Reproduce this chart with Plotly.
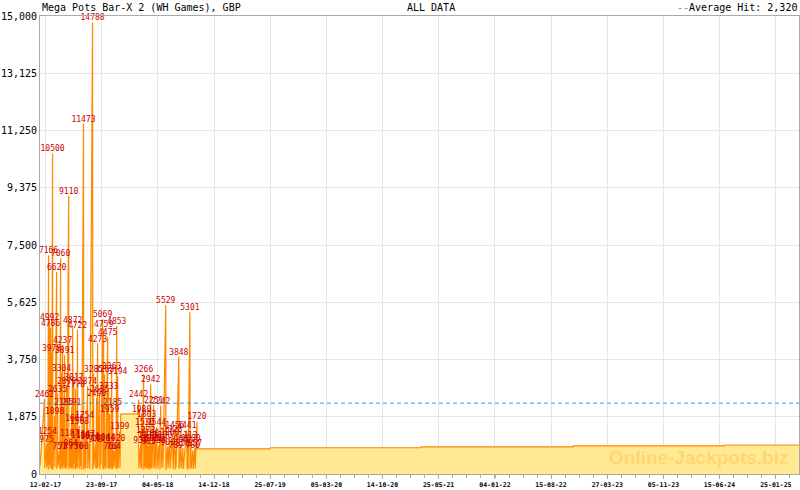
import plotly.graph_objects as go
import pandas as pd

# ---------------- data ----------------
hit_dates = [
    "2017-02-08", "2017-02-16", "2017-02-20", "2017-02-24", "2017-02-28", "2017-03-04",
    "2017-03-08", "2017-03-12", "2017-03-20", "2017-03-28", "2017-04-01", "2017-04-09",
    "2017-04-13", "2017-04-17", "2017-04-21", "2017-04-25", "2017-04-29", "2017-05-03",
    "2017-05-07", "2017-05-15", "2017-05-19", "2017-05-23", "2017-05-27", "2017-05-31",
    "2017-06-04", "2017-06-08", "2017-06-11", "2017-06-15", "2017-06-19", "2017-06-27",
    "2017-07-01", "2017-07-05", "2017-07-13", "2017-07-17", "2017-07-21", "2017-07-29",
    "2017-08-06", "2017-08-18", "2017-08-22", "2017-08-30", "2017-09-03", "2017-09-07",
    "2017-09-15", "2017-09-19", "2017-09-27", "2017-10-01", "2017-10-05", "2017-10-09",
    "2017-10-17", "2017-10-21", "2017-10-25", "2017-10-29", "2017-11-02", "2017-11-06",
    "2017-11-10", "2017-11-18", "2017-11-22", "2017-11-26", "2017-12-04",
    "2018-02-17", "2018-02-25", "2018-03-01", "2018-03-09", "2018-03-13", "2018-03-17",
    "2018-03-21", "2018-03-25", "2018-03-29", "2018-04-02", "2018-04-06", "2018-04-10",
    "2018-04-18", "2018-04-22", "2018-04-30", "2018-05-08", "2018-05-16", "2018-05-24",
    "2018-06-05", "2018-06-13", "2018-06-21", "2018-07-03", "2018-07-11", "2018-07-15",
    "2018-07-27", "2018-08-04", "2018-08-12", "2018-08-28", "2018-09-01", "2018-09-09",
    "2018-09-13", "2018-09-21", "2018-09-29", "2018-10-07",
]
hit_values = [
    2462, 975, 1254, 7166, 4992, 4786,
    3978, 10500, 1898, 6620, 2635, 751,
    7060, 3304, 4237, 2185, 3891, 747,
    2876, 9110, 1187, 864, 2191, 4872,
    3017, 1666, 2778, 750, 4722, 1568,
    1100, 760, 11473, 1754, 1147, 2874,
    1074, 14788, 3285, 973, 2490, 4273,
    2625, 1016, 5069, 4759, 3263, 1044,
    4475, 2733, 1959, 766, 3363, 2185,
    764, 1020, 4853, 3194, 1399,
    2442, 936, 1980, 3266, 1530, 1272,
    1803, 1113, 913, 1180, 2942, 1000,
    2251, 1030, 1544, 938, 2242, 1100,
    5529, 900, 1200, 1323, 1456, 789,
    3848, 990, 850, 1441, 1113, 5301,
    1000, 780, 857, 1720,
]
# value the jackpot fell back to right after each hit
trough_values = [
    210, 180, 260, 150, 300, 190, 170, 140, 230, 160, 250, 180,
    150, 210, 170, 280, 190, 160, 220, 150, 240, 170, 200, 160,
    310, 180, 150, 230, 190, 170, 260, 150, 140, 220, 180, 200,
    160, 150, 250, 190, 170, 210, 160, 300, 180, 150, 230, 170,
    200, 160, 190, 220, 150, 180, 240, 170, 160, 200, 200,
    180, 220, 160, 150, 240, 190, 170, 210, 160, 150, 200, 180,
    230, 160, 190, 150, 170, 210, 140, 200, 180, 160, 150, 220,
    170, 190, 160, 180, 150, 200, 170, 160, 190, 820,
]
# extra jackpot readings (start, data gap plateau, slow growth since last hit)
extra_dates = ["2017-01-21", "2017-12-08", "2018-02-13",
               "2019-07-25", "2019-07-26", "2021-03-16", "2021-03-17",
               "2022-11-11", "2022-11-12", "2024-07-05", "2024-07-06", "2025-04-27"]
extra_values = [260, 1960, 1975,
                820, 860, 860, 890,
                890, 920, 920, 950, 950]

average_hit = 2320
y_ticks = [0, 1875, 3750, 5625, 7500, 9375, 11250, 13125, 15000]
tick_dates = ["2017-02-12", "2017-09-23", "2018-05-04", "2018-12-14", "2019-07-25",
              "2020-03-05", "2020-10-14", "2021-05-25", "2022-01-04", "2022-08-15",
              "2023-03-27", "2023-11-05", "2024-06-15", "2025-01-25"]
tick_labels = ["12-02-17", "23-09-17", "04-05-18", "14-12-18", "25-07-19",
               "05-03-20", "14-10-20", "25-05-21", "04-01-22", "15-08-22",
               "27-03-23", "05-11-23", "15-06-24", "25-01-25"]

# ---------------- build jackpot line ----------------
hd = pd.to_datetime(hit_dates)
pts = []
for d, v, t in zip(hd, hit_values, trough_values):
    pts.append((d, v))
    pts.append((d + pd.Timedelta(days=1), t))
for d, v in zip(pd.to_datetime(extra_dates), extra_values):
    pts.append((d, v))
line = pd.DataFrame(pts, columns=["date", "value"]).sort_values("date")

MONO = "DejaVu Sans Mono"
fig = go.Figure()
fig.add_trace(go.Scatter(
    x=line["date"], y=line["value"], mode="lines",
    line=dict(color="#FF8800", width=1.2),
    fill="tozeroy", fillcolor="#FFE993", hoverinfo="skip", showlegend=False))
fig.add_trace(go.Scatter(
    x=hd, y=hit_values, mode="text", text=[str(v) for v in hit_values],
    textposition="top center", cliponaxis=False,
    textfont=dict(family=MONO, size=8, color="#CC0000"),
    hoverinfo="skip", showlegend=False))

fig.add_shape(type="line", xref="paper", x0=0, x1=1, yref="y",
              y0=average_hit, y1=average_hit,
              line=dict(color="#3D9BD6", width=1, dash="4px,3px"))

fig.add_annotation(xref="paper", yref="paper", x=0.868, y=0.037,
                   text="<b>Online-Jackpots.biz</b>", showarrow=False,
                   xanchor="center", yanchor="middle",
                   font=dict(family="Liberation Sans", size=19,
                             color="rgba(255,175,60,0.35)"))
fig.add_annotation(xref="paper", yref="paper", x=0, y=1, yshift=9,
                   xanchor="left", yanchor="middle", showarrow=False,
                   text="Mega Pots Bar-X 2 (WH Games), GBP",
                   font=dict(family=MONO, size=10, color="#000"))
fig.add_annotation(xref="paper", yref="paper", x=0.481, y=1, yshift=9,
                   xanchor="left", yanchor="middle", showarrow=False,
                   text="ALL DATA", font=dict(family=MONO, size=10, color="#000"))
fig.add_annotation(xref="paper", yref="paper", x=1, y=1, yshift=9,
                   xanchor="right", yanchor="middle", showarrow=False,
                   text='<span style="color:#3D9BD6">--</span>Average Hit: '
                        + f"{average_hit:,}",
                   font=dict(family=MONO, size=10, color="#000"))

fig.update_layout(
    width=800, height=490,
    margin=dict(l=40, r=1, t=16, b=16, autoexpand=False),
    paper_bgcolor="white", plot_bgcolor="white",
    xaxis=dict(
        type="date", range=["2017-01-21", "2025-04-27"], automargin=False,
        tickmode="array", tickvals=tick_dates, ticktext=tick_labels,
        ticks="outside", ticklen=4, tickcolor="#AAAAAA",
        showgrid=True, gridcolor="#E6E6E6",
        showline=True, linecolor="#AAAAAA", mirror=True,
        tickfont=dict(family=MONO, size=6.5, color="#000", weight="bold"),
        minor=dict(tickmode="linear", tick0="2017-02-12", dtick=4825440000,
                   ticks="outside", ticklen=3, tickcolor="#AAAAAA", showgrid=False),
        fixedrange=True),
    yaxis=dict(
        range=[0, 15000], tickmode="array", tickvals=y_ticks, tickformat=",",
        automargin=False,
        ticks="", showgrid=True, gridcolor="#E6E6E6", zeroline=False,
        showline=True, linecolor="#AAAAAA", mirror=True,
        tickfont=dict(family=MONO, size=10, color="#000"),
        fixedrange=True),
)

fig.write_html("out.html", config={"displayModeBar": False},
               post_script="document.body.style.margin='0px';")
